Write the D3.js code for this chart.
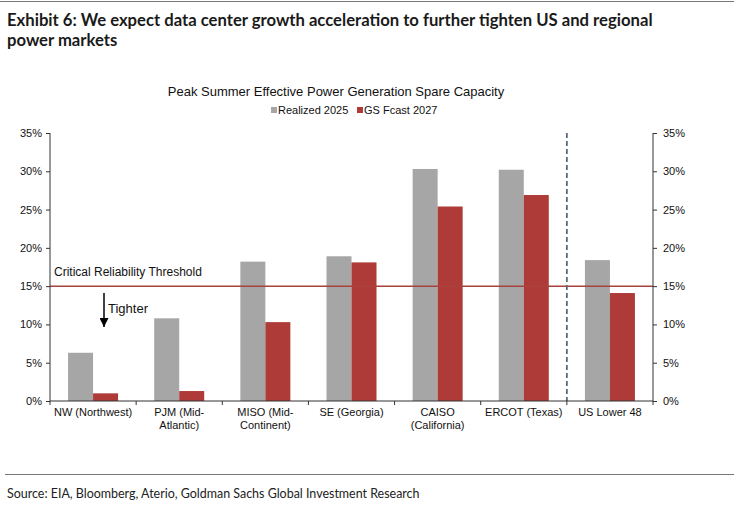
<!DOCTYPE html>
<html><head><meta charset="utf-8">
<script src="https://cdn.jsdelivr.net/npm/d3@7"></script>
<style>
body{margin:0;background:#fff;}
svg{display:block;}
</style></head>
<body>
<svg id="c" width="742" height="522"></svg>
<script>
const categories = ["NW (Northwest)", "PJM (Mid-|Atlantic)", "MISO (Mid-|Continent)", "SE (Georgia)", "CAISO|(California)", "ERCOT (Texas)", "US Lower 48"];
const realized2025 = [6.3, 10.8, 18.2, 18.9, 30.3, 30.2, 18.4];
const fcast2027 = [1.0, 1.3, 10.3, 18.1, 25.4, 26.9, 14.1];
const seriesNames = ["Realized 2025", "GS Fcast 2027"];
const yTicks = [0, 5, 10, 15, 20, 25, 30, 35];
const threshold = 15;

const colGray = "#a6a6a6", colRed = "#ae3b37", lineRed = "#a8423f";
const svg = d3.select("#c");
const L = 50, R = 653, T = 133, B = 401;
const x = d3.scaleBand().domain(categories).range([L, R]).paddingInner(0).paddingOuter(0);
const y = d3.scaleLinear().domain([0, 35]).range([B, T]);
const bw = 25;

// top and bottom rules
svg.append("line").attr("x1",0).attr("x2",734).attr("y1",1.5).attr("y2",1.5).attr("stroke","#777").attr("stroke-width",1.2);
svg.append("line").attr("x1",5).attr("x2",734).attr("y1",474.5).attr("y2",474.5).attr("stroke","#777").attr("stroke-width",1.2);

function fitText(sel, w){
  const n = sel.node(); const l = n.getComputedTextLength();
  const fs = parseFloat(sel.attr("font-size"));
  sel.attr("font-size", fs * w / l);
}
const tf = "Lato, 'Open Sans', sans-serif";
const t1 = svg.append("text").attr("x",7).attr("y",26).attr("font-family",tf).attr("font-weight","bold").attr("font-size",17).attr("fill","#1a1a1a").text("Exhibit 6: We expect data center growth acceleration to further tighten US and regional");
fitText(t1, 646);
const t2 = svg.append("text").attr("x",7).attr("y",46).attr("font-family",tf).attr("font-weight","bold").attr("font-size",t1.attr("font-size")).attr("fill","#1a1a1a").text("power markets");
const src = svg.append("text").attr("x",7).attr("y",498).attr("font-family",tf).attr("font-size",12).attr("fill","#222").text("Source: EIA, Bloomberg, Aterio, Goldman Sachs Global Investment Research");
fitText(src, 413);

const af = "Arial, 'Liberation Sans', sans-serif";
svg.append("text").attr("x",336).attr("y",96).attr("text-anchor","middle").attr("font-family",af).attr("font-size",13).attr("fill","#111").text("Peak Summer Effective Power Generation Spare Capacity");

// legend
const leg = svg.append("g");
const legX = [271, 357];
seriesNames.forEach((s,i)=>{
  leg.append("rect").attr("x",legX[i]).attr("y",107).attr("width",6).attr("height",6).attr("fill", i? colRed: colGray);
  leg.append("text").attr("x",legX[i]+7).attr("y",114).attr("font-family",af).attr("font-size",11).attr("fill","#111").text(s);
});

// bars
const g = svg.append("g");
categories.forEach((c,i)=>{
  const cx = x(c) + x.bandwidth()/2;
  g.append("rect").attr("x",cx-bw).attr("width",bw).attr("y",y(realized2025[i])).attr("height",y(0)-y(realized2025[i])).attr("fill",colGray);
  g.append("rect").attr("x",cx).attr("width",bw).attr("y",y(fcast2027[i])).attr("height",y(0)-y(fcast2027[i])).attr("fill",colRed);
});

// threshold line
svg.append("line").attr("x1",L).attr("x2",R).attr("y1",y(threshold)).attr("y2",y(threshold)).attr("stroke",lineRed).attr("stroke-width",1.5);
svg.append("text").attr("x",54).attr("y",276).attr("font-family",af).attr("font-size",12).attr("fill","#111").text("Critical Reliability Threshold");

// Tighter arrow
svg.append("defs").append("marker").attr("id","ah").attr("viewBox","0 0 10 10").attr("refX",10).attr("refY",5).attr("markerWidth",6).attr("markerHeight",6).attr("orient","auto")
  .append("path").attr("d","M0,0 L10,5 L0,10 z").attr("fill","#000");
svg.append("line").attr("x1",104).attr("x2",104).attr("y1",293).attr("y2",327).attr("stroke","#000").attr("stroke-width",1.5).attr("marker-end","url(#ah)");
svg.append("text").attr("x",108).attr("y",313).attr("font-family",af).attr("font-size",13).attr("fill","#111").text("Tighter");

// dashed divider
svg.append("line").attr("x1",x(categories[6])).attr("x2",x(categories[6])).attr("y1",T).attr("y2",B).attr("stroke","#5b6b7b").attr("stroke-width",1.8).attr("stroke-dasharray","5,3");

// axes
const fmt = d => d + "%";
const yl = svg.append("g").attr("transform",`translate(${L},0)`).call(d3.axisLeft(y).tickValues(yTicks).tickFormat(fmt).tickSize(4).tickPadding(6));
const yr = svg.append("g").attr("transform",`translate(${R},0)`).call(d3.axisRight(y).tickValues(yTicks).tickFormat(fmt).tickSize(4).tickPadding(6));
[yl,yr].forEach(a=>{
  a.select(".domain").attr("d", `M0,${T}V${B}`).attr("stroke","#333");
  a.selectAll(".tick line").attr("stroke","#333");
  a.selectAll("text").attr("font-family",af).attr("font-size",11).attr("fill","#111");
});
yl.selectAll("text").attr("x",-8);

// x axis with boundary ticks
const xa = svg.append("g").attr("transform",`translate(0,${B})`);
xa.append("line").attr("x1",L).attr("x2",R).attr("stroke","#333").attr("stroke-width",1.2);
const bounds = categories.map(c=>x(c)).concat([R]);
xa.selectAll("line.tk").data(bounds).join("line").attr("class","tk").attr("x1",d=>d).attr("x2",d=>d).attr("y1",0).attr("y2",4).attr("stroke","#333");
categories.forEach(c=>{
  const cx = x(c) + x.bandwidth()/2;
  const t = xa.append("text").attr("text-anchor","middle").attr("font-family",af).attr("font-size",11).attr("fill","#111");
  c.split("|").forEach((ln,j)=> t.append("tspan").attr("x",cx).attr("y",15 + j*13).text(ln));
});
</script>
</body></html>
